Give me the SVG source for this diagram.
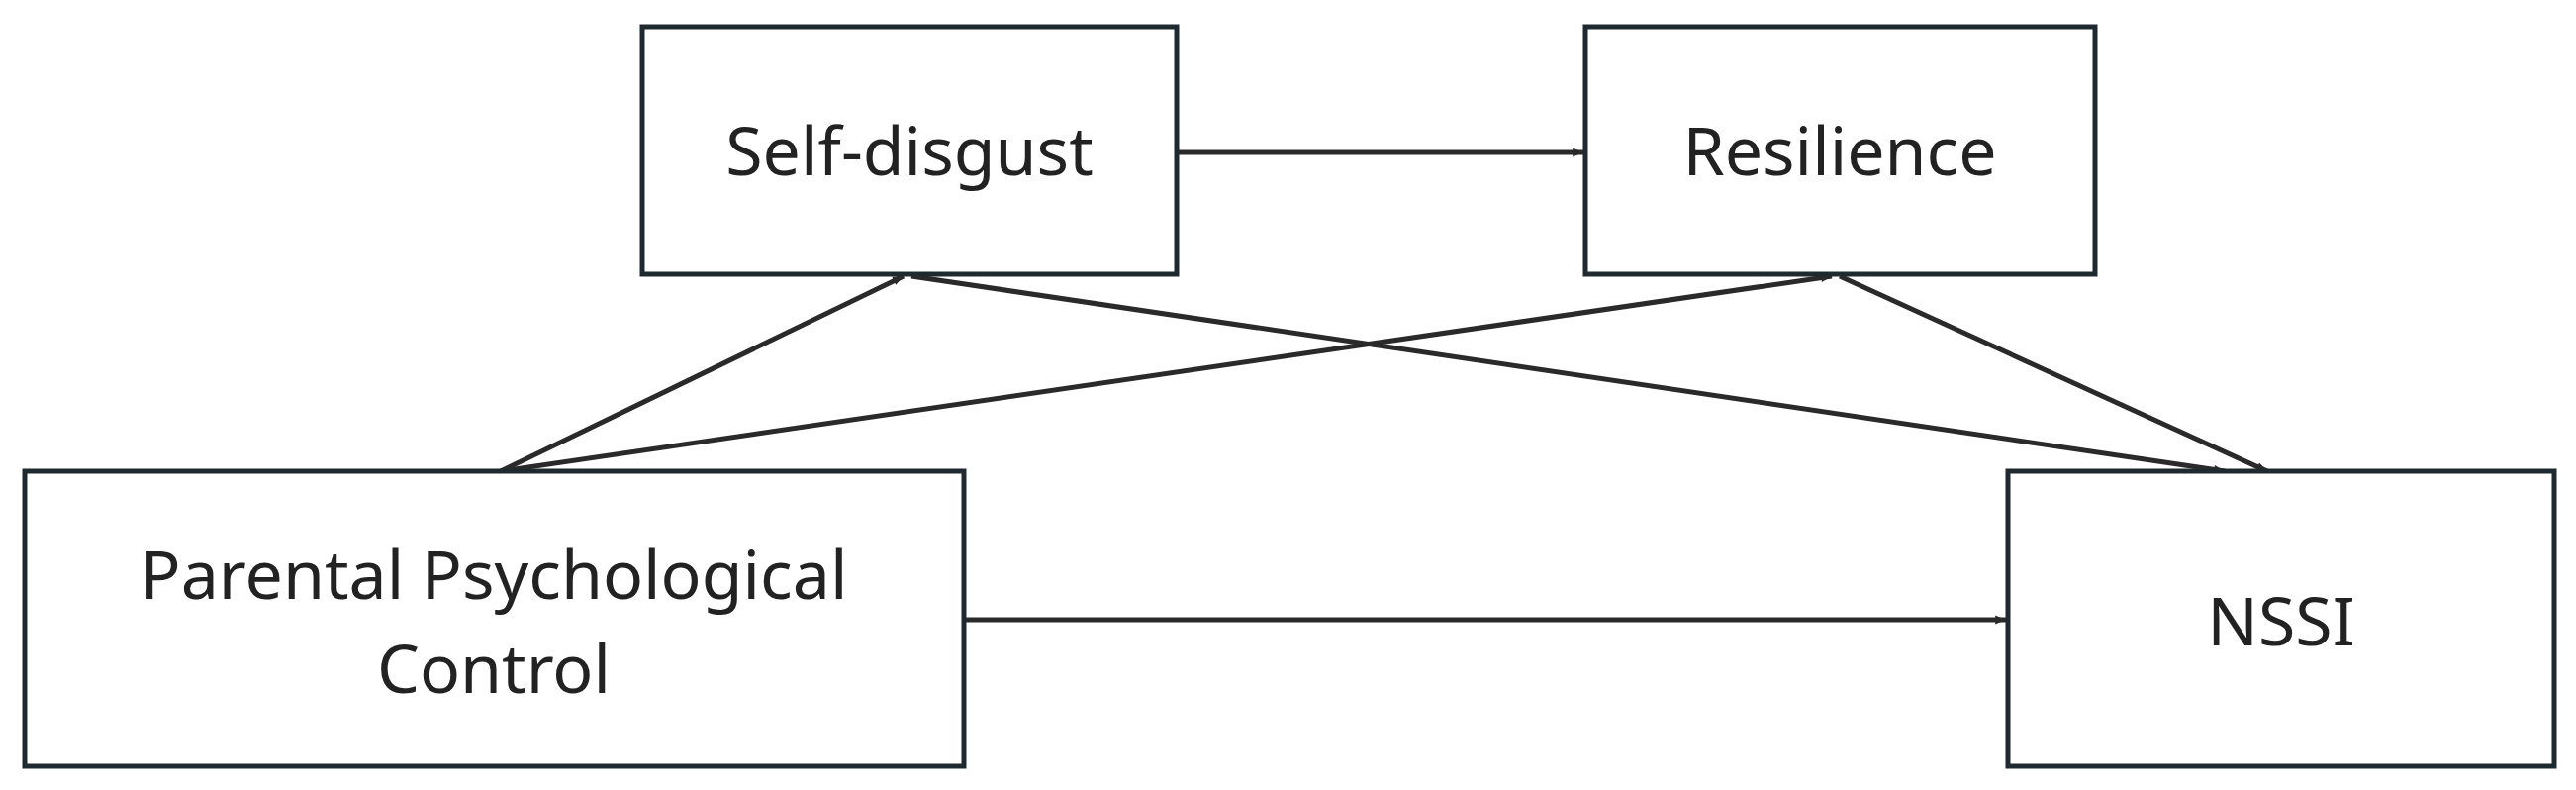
<svg xmlns="http://www.w3.org/2000/svg" width="2603" height="798" viewBox="0 0 2603 798">
<style>
.box{fill:#fff;stroke:#1f2a30;stroke-width:5}
.lbl{font-family:"Noto Sans","Open Sans",sans-serif;font-size:68px;fill:#222;text-anchor:middle}
.c{stroke:#2a2a2a;stroke-width:5;fill:none;marker-end:url(#ah)}
</style>
<defs>
<marker id="ah" viewBox="0 0 12 10" refX="12" refY="5" markerWidth="11" markerHeight="9" markerUnits="userSpaceOnUse" orient="auto" style="overflow:visible">
<path d="M0,0L12,5L0,10z" fill="#2a2a2a" transform="scale(1)"/>
</marker>
</defs>
<rect width="2603" height="798" fill="#fff"/>
<g id="connectors">
<line class="c" x1="1191" y1="154" x2="1600" y2="154"/>
<line class="c" x1="976" y1="626" x2="2027" y2="626"/>
<line class="c" x1="506" y1="476" x2="913" y2="279"/>
<line class="c" x1="506" y1="476" x2="1851" y2="279"/>
<line class="c" x1="921" y1="279" x2="2248" y2="476"/>
<line class="c" x1="1859" y1="279" x2="2291" y2="476"/>
</g>
<g id="self-disgust"><rect class="box" x="649" y="27" width="540" height="250"/><text class="lbl" x="919" y="177">Self-disgust</text></g>
<g id="resilience"><rect class="box" x="1602" y="27" width="515" height="250"/><text class="lbl" x="1859" y="177">Resilience</text></g>
<g id="ppc"><rect class="box" x="25" y="476" width="949" height="298"/><text class="lbl" x="499" y="605">Parental Psychological</text><text class="lbl" x="499" y="700">Control</text></g>
<g id="nssi"><rect class="box" x="2029" y="476" width="552" height="298"/><text class="lbl" x="2305" y="652">NSSI</text></g>
</svg>
